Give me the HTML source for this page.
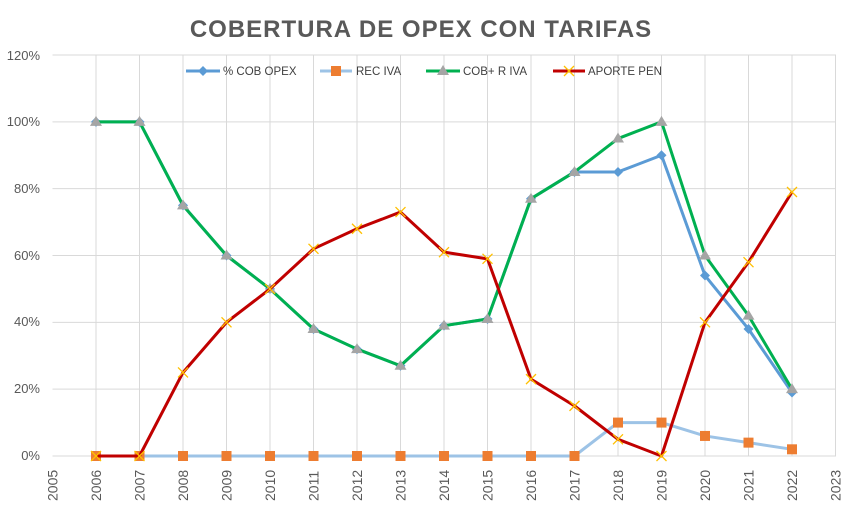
<!DOCTYPE html>
<html><head><meta charset="utf-8"><style>
body{margin:0;background:#fff}
svg{display:block;font-family:"Liberation Sans",sans-serif}
</style></head><body>
<svg id="s" width="855" height="530" viewBox="0 0 855 530">
<rect width="855" height="530" fill="#fff"/>
<text x="421" y="37" text-anchor="middle" font-size="24" font-weight="bold" fill="#595959" letter-spacing="1">COBERTURA DE OPEX CON TARIFAS</text>
<g id="grid" stroke="#d9d9d9" stroke-width="1"></g>
<g font-size="13" fill="#595959" text-anchor="end">
<text x="40" y="460">0%</text><text x="40" y="393">20%</text><text x="40" y="326">40%</text>
<text x="40" y="260">60%</text><text x="40" y="193">80%</text><text x="40" y="126">100%</text><text x="40" y="60">120%</text>
</g>
<g id="xl" font-size="14" fill="#595959"></g>
<g id="series"></g>
<g font-size="11.5" fill="#404040">
<line x1="186" y1="71" x2="220" y2="71" stroke="#5b9bd5" stroke-width="3"/><path d="M203 66l5 5-5 5-5-5z" fill="#5b9bd5"/><text x="223" y="75">% COB OPEX</text>
<line x1="320" y1="71" x2="352" y2="71" stroke="#9dc3e6" stroke-width="3"/><rect x="331" y="66" width="10" height="10" fill="#ed7d31"/><text x="356" y="75">REC IVA</text>
<line x1="426" y1="71" x2="460" y2="71" stroke="#00b050" stroke-width="3"/><path d="M443 65l6 10h-12z" fill="#a5a5a5"/><text x="463" y="75">COB+ R IVA</text>
<line x1="553" y1="71" x2="585" y2="71" stroke="#c00000" stroke-width="3"/><path d="M564 66l10 10M574 66l-10 10" stroke="#ffc000" stroke-width="1.3"/><text x="588" y="75">APORTE PEN</text>
</g>
</svg>
<script>
var ns="http://www.w3.org/2000/svg";
function X(y){return 52.5+(y-2005)*43.5}
function Y(v){return 456-v*401/120}
function el(p,t,a){var e=document.createElementNS(ns,t);for(var k in a)e.setAttribute(k,a[k]);p.appendChild(e);return e}
var g=document.getElementById('grid');
for(var i=1;i<=6;i++)el(g,'line',{x1:52.5,x2:836,y1:Y(i*20),y2:Y(i*20)});
for(var y=2006;y<=2023;y++)el(g,'line',{x1:X(y),x2:X(y),y1:55,y2:456});
el(g,'line',{x1:52.5,x2:836,y1:456,y2:456});
var xl=document.getElementById('xl');
for(var y=2005;y<=2023;y++){var t=el(xl,'text',{transform:'translate('+(X(y)+5)+',501) rotate(-90)'});t.textContent=y;}
var S=document.getElementById('series');
var opex=[100,100,75,60,50,38,32,27,39,41,77,85,85,90,54,38,19];
var rec=[0,0,0,0,0,0,0,0,0,0,0,0,10,10,6,4,2];
var cob=[100,100,75,60,50,38,32,27,39,41,77,85,95,100,60,42,20];
var ap=[0,0,25,40,50,62,68,73,61,59,23,15,5,0,40,58,79];
function pts(d){return d.map(function(v,i){return X(2006+i)+','+Y(v)}).join(' ')}
function line(d,c){el(S,'polyline',{points:pts(d),fill:'none',stroke:c,'stroke-width':3,'stroke-linejoin':'round'})}
line(opex,'#5b9bd5');opex.forEach(function(v,i){var x=X(2006+i),y=Y(v);el(S,'path',{d:'M'+x+' '+(y-5)+'l5 5-5 5-5-5z',fill:'#5b9bd5'})});
line(rec,'#9dc3e6');rec.forEach(function(v,i){var x=X(2006+i),y=Y(v);el(S,'rect',{x:x-5,y:y-5,width:10,height:10,fill:'#ed7d31'})});
line(cob,'#00b050');cob.forEach(function(v,i){var x=X(2006+i),y=Y(v);el(S,'path',{d:'M'+x+' '+(y-6)+'l6 10h-12z',fill:'#a5a5a5'})});
line(ap,'#c00000');ap.forEach(function(v,i){var x=X(2006+i),y=Y(v);el(S,'path',{d:'M'+(x-5)+' '+(y-5)+'l10 10M'+(x+5)+' '+(y-5)+'l-10 10',stroke:'#ffc000','stroke-width':1.3})});
</script>
</body></html>
